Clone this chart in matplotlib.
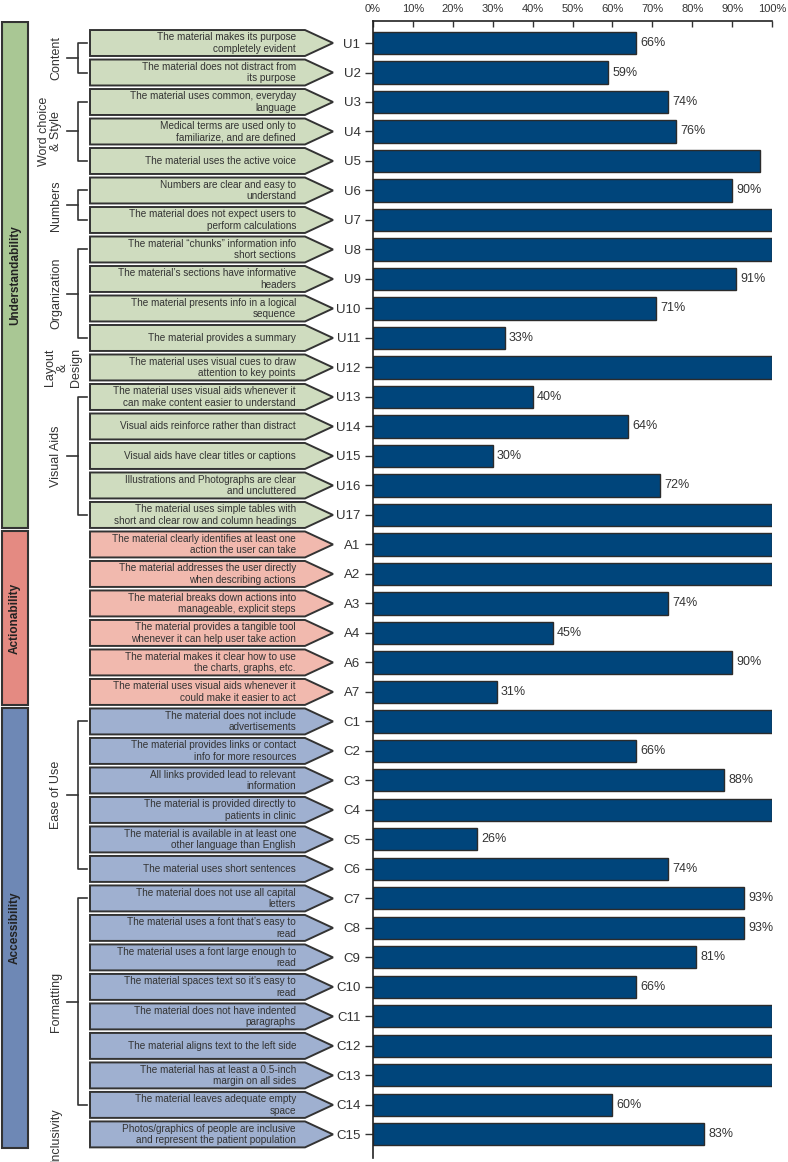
import matplotlib.pyplot as plt
from matplotlib.patches import Polygon, Rectangle

plt.rcParams['font.family'] = ['Liberation Sans', 'DejaVu Sans']

codes = ["U1", "U2", "U3", "U4", "U5", "U6", "U7", "U8", "U9", "U10", "U11", "U12",
         "U13", "U14", "U15", "U16", "U17",
         "A1", "A2", "A3", "A4", "A6", "A7",
         "C1", "C2", "C3", "C4", "C5", "C6", "C7", "C8", "C9", "C10", "C11", "C12",
         "C13", "C14", "C15"]

values = [66, 59, 74, 76, 97, 90, 100, 100, 91, 71, 33, 100,
          40, 64, 30, 72, 100,
          100, 100, 74, 45, 90, 31,
          100, 66, 88, 100, 26, 74, 93, 93, 81, 66, 100, 100,
          100, 60, 83]

statements = [
    "The material makes its purpose\ncompletely evident",
    "The material does not distract from\nits purpose",
    "The material uses common, everyday\nlanguage",
    "Medical terms are used only to\nfamiliarize, and are defined",
    "The material uses the active voice",
    "Numbers are clear and easy to\nunderstand",
    "The material does not expect users to\nperform calculations",
    "The material \u201cchunks\u201d information info\nshort sections",
    "The material\u2019s sections have informative\nheaders",
    "The material presents info in a logical\nsequence",
    "The material provides a summary",
    "The material uses visual cues to draw\nattention to key points",
    "The material uses visual aids whenever it\ncan make content easier to understand",
    "Visual aids reinforce rather than distract",
    "Visual aids have clear titles or captions",
    "Illustrations and Photographs are clear\nand uncluttered",
    "The material uses simple tables with\nshort and clear row and column headings",
    "The material clearly identifies at least one\naction the user can take",
    "The material addresses the user directly\nwhen describing actions",
    "The material breaks down actions into\nmanageable, explicit steps",
    "The material provides a tangible tool\nwhenever it can help user take action",
    "The material makes it clear how to use\nthe charts, graphs, etc.",
    "The material uses visual aids whenever it\ncould make it easier to act",
    "The material does not include\nadvertisements",
    "The material provides links or contact\ninfo for more resources",
    "All links provided lead to relevant\ninformation",
    "The material is provided directly to\npatients in clinic",
    "The material is available in at least one\nother language than English",
    "The material uses short sentences",
    "The material does not use all capital\nletters",
    "The material uses a font that\u2019s easy to\nread",
    "The material uses a font large enough to\nread",
    "The material spaces text so it\u2019s easy to\nread",
    "The material does not have indented\nparagraphs",
    "The material aligns text to the left side",
    "The material has at least a 0.5-inch\nmargin on all sides",
    "The material leaves adequate empty\nspace",
    "Photos/graphics of people are inclusive\nand represent the patient population",
]

# domains: name, first row, last row
domains = [("Understandability", 0, 16), ("Actionability", 17, 22), ("Accessibility", 23, 37)]
domain_colors = ["#a9c794", "#e48a82", "#6e88b5"]
arrow_colors = ["#cfdcbf", "#f1b9ae", "#9fb0d0"]

# subgroups: label, first row, last row, bracket?
subgroups = [("Content", 0, 1, True), ("Word choice\n& Style", 2, 4, True),
             ("Numbers", 5, 6, True), ("Organization", 7, 10, True),
             ("Layout\n&\nDesign", 11, 11, False), ("Visual Aids", 12, 16, True),
             ("Ease of Use", 23, 28, True), ("Formatting", 29, 36, True),
             ("Inclusivity", 37, 37, False)]
subgroup_x = [56, 50, 56, 56, 63, 56, 56, 56, 56]

W, H = 788, 1162
fig = plt.figure(figsize=(W / 100, H / 100), dpi=100)
y0 = 4 / H
hh = (H - 21 - 4) / H
ax = fig.add_axes([373 / W, y0, (772 - 373) / W, hh])
axl = fig.add_axes([0, y0, 373 / W, hh])

ymin, ymax = 37.8, -0.746
rows = list(range(len(codes)))

ax.barh(rows, values, height=0.75, color="#00457b", edgecolor="#2b2b2b", linewidth=1.0)
for r, v in zip(rows, values):
    if v < 95:
        ax.annotate(f"{v}%", (v, r), xytext=(3, 0), textcoords="offset points",
                    ha="left", va="center", fontsize=9, color="#333333")

ax.set_xlim(0, 100)
ax.set_ylim(ymin, ymax)
ax.set_xticks(range(0, 101, 10))
ax.set_xticklabels([f"{t}%" for t in range(0, 101, 10)])
ax.set_yticks(rows)
ax.set_yticklabels(codes)
ax.xaxis.tick_top()
ax.tick_params(axis="x", direction="in", length=4, width=1, labelsize=8, pad=5, colors="#333333")
ax.tick_params(axis="y", direction="out", length=6, width=1, labelsize=9.5, pad=3, colors="#333333")
for s in ["right", "bottom"]:
    ax.spines[s].set_visible(False)
for s in ["left", "top"]:
    ax.spines[s].set_color("#222222")
    ax.spines[s].set_linewidth(1.2)

# left panel
axl.set_xlim(0, 373)
axl.set_ylim(ymin, ymax)
axl.axis("off")

edge = "#333333"
for k, (name, a, b) in enumerate(domains):
    top = a - 0.72 if k == 0 else a - 0.45
    bot = b + 0.45
    axl.add_patch(Rectangle((2, top), 26, bot - top, facecolor=domain_colors[k],
                            edgecolor=edge, linewidth=1.5))
    axl.text(15, (top + bot) / 2, name, rotation=90, ha="center", va="center",
             fontsize=8.5, fontweight="bold", color="#222222")
    for r in range(a, b + 1):
        h = 0.44
        pts = [(90, r - h), (305, r - h), (333, r), (305, r + h), (90, r + h)]
        axl.add_patch(Polygon(pts, closed=True, facecolor=arrow_colors[k],
                              edgecolor=edge, linewidth=1.4))
        axl.text(296, r, statements[r], ha="right", va="center", ma="right",
                 fontsize=7.2, color="#333333", linespacing=1.15)

for (label, a, b, bracket), x in zip(subgroups, subgroup_x):
    mid = (a + b) / 2
    axl.text(x, mid, label, rotation=90, ha="center", va="center", ma="center",
             fontsize=9, color="#333333", linespacing=1.1)
    if bracket:
        axl.plot([87, 78, 78, 87], [a, a, b, b], color=edge, linewidth=1.2)
        axl.plot([67, 78], [mid, mid], color=edge, linewidth=1.2)

fig.savefig("out.png", dpi=100)
